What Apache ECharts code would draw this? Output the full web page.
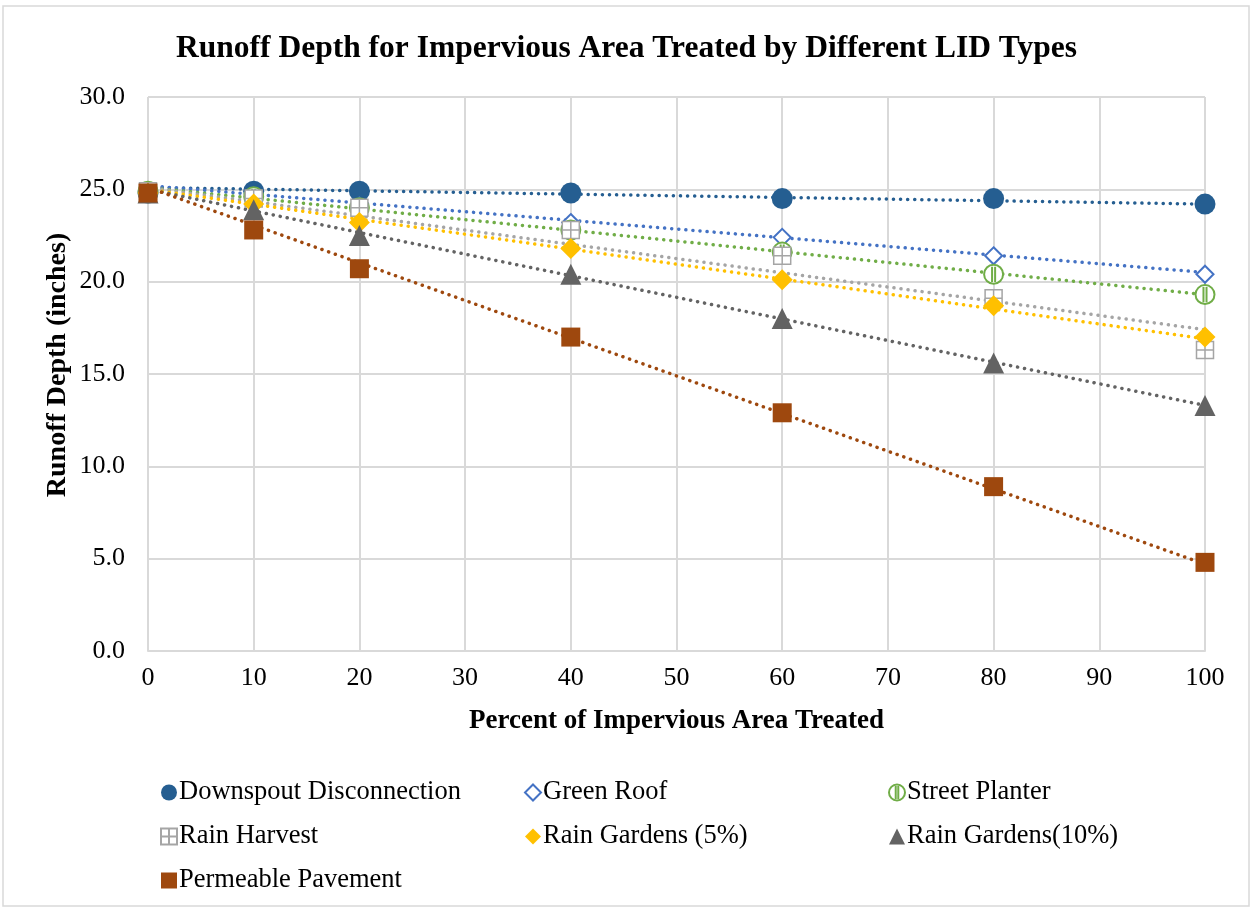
<!DOCTYPE html>
<html><head><meta charset="utf-8">
<script src="https://cdn.jsdelivr.net/npm/echarts@6/dist/echarts.min.js"></script>
<style>html,body{margin:0;padding:0;background:#fff}#c{width:1253px;height:909px}</style>
</head><body><div id="c"></div>
<script>
const xValues = [0, 10, 20, 40, 60, 80, 100];
const downspout = [24.8, 24.9, 24.9, 24.8, 24.5, 24.5, 24.2];
const greenRoof = [24.9, 24.6, 24.1, 23.2, 22.4, 21.4, 20.4];
const streetPlanter = [24.9, 24.6, 24.0, 22.8, 21.6, 20.4, 19.3];
const rainHarvest = [24.9, 24.5, 24.0, 22.8, 21.4, 19.1, 16.3];
const rainGardens5 = [24.8, 24.2, 23.2, 21.8, 20.1, 18.7, 17.0];
const rainGardens10 = [24.8, 23.9, 22.5, 20.4, 18.0, 15.6, 13.3];
const permeable = [24.8, 22.8, 20.7, 17.0, 12.9, 8.9, 4.8];
// trendline endpoints, at x = 0 and x = 100
const trendX = [0, 100];
const trendDownspout = [25.1, 24.2];
const trendGreenRoof = [25.2, 20.5];
const trendStreetPlanter = [25.1, 19.3];
const trendRainHarvest = [25.1, 17.4];
const trendRainGardens5 = [25.0, 16.9];
const trendRainGardens10 = [25.0, 13.3];
const trendPermeable = [25.1, 4.7];
const names = ['Downspout Disconnection','Green Roof','Street Planter','Rain Harvest','Rain Gardens (5%)','Rain Gardens(10%)','Permeable Pavement'];
const colors = ['#255E91','#4472C4','#70AD47','#A5A5A5','#FFC000','#636363','#9E480E'];

const pts = arr => xValues.map((x,i)=>[x,arr[i]]);
const tr = arr => trendX.map((x,i)=>[x,arr[i]]);
const font = '"Liberation Serif","Times New Roman",serif';

const harvestPath = 'path://M0,0 L10,0 L10,10 L0,10 Z M5,0 L5,10 M0,5 L10,5';
const planterPath = 'path://M5,0 A5,5 0 1,1 5,10 A5,5 0 1,1 5,0 Z M4.2,1 L4.2,9 M5.8,1 L5.8,9';
const markerDefs = [
  {data: downspout, symbol:'circle', size:21, style:{color:colors[0]}},
  {data: greenRoof, symbol:'diamond', size:17, style:{color:'#fff', borderColor:colors[1], borderWidth:2}},
  {data: streetPlanter, symbol:planterPath, size:19, style:{color:'#fff', borderColor:colors[2], borderWidth:2}},
  {data: rainHarvest, symbol:harvestPath, size:17, style:{color:'#fff', borderColor:colors[3], borderWidth:1.5}},
  {data: rainGardens5, symbol:'diamond', size:21, style:{color:colors[4]}},
  {data: rainGardens10, symbol:'triangle', size:21, style:{color:colors[5]}},
  {data: permeable, symbol:'rect', size:19, style:{color:colors[6]}}
];
const trends = [trendDownspout, trendGreenRoof, trendStreetPlanter, trendRainHarvest, trendRainGardens5, trendRainGardens10, trendPermeable];

const series = [];
trends.forEach((t,i)=>{
  series.push({type:'line', name:'trend'+i, data: tr(t), symbol:'none', silent:true, z:2,
    lineStyle:{color:colors[i], width:3.5, type:[0.1,7], cap:'round'}});
});
markerDefs.forEach((m,i)=>{
  series.push({type:'scatter', name:names[i], data: pts(m.data), symbol:m.symbol, symbolSize:m.size,
    itemStyle:Object.assign({opacity:1}, m.style), z:3+i});
});

const legendBase = {orient:'vertical', itemWidth:16, itemHeight:16, itemGap:17,
  textStyle:{fontFamily:font, fontSize:26.5, color:'#000', padding:[0,0,0,-3]}};
const chart = echarts.init(document.getElementById('c'));
chart.setOption({
  animation:false,
  backgroundColor:'#fff',
  title:{text:'Runoff Depth for Impervious Area Treated by Different LID Types', left:'center', top:28,
    textStyle:{fontFamily:font, fontSize:31.5, fontWeight:'bold', color:'#000'}},
  grid:{left:148, right:48, top:97, bottom:258},
  xAxis:{type:'value', min:0, max:100, interval:10,
    name:'Percent of Impervious Area Treated', nameLocation:'middle', nameGap:57,
    nameTextStyle:{fontFamily:font, fontSize:27, fontWeight:'bold', color:'#000'},
    axisLine:{show:true, lineStyle:{color:'#d9d9d9', width:2}}, axisTick:{show:false},
    axisLabel:{fontFamily:font, fontSize:26, color:'#000', margin:14},
    splitLine:{show:true, lineStyle:{color:'#d9d9d9', width:2}}},
  yAxis:{type:'value', min:0, max:30, interval:5,
    axisLine:{show:false}, axisTick:{show:false},
    axisLabel:{fontFamily:font, fontSize:26, color:'#000', margin:23, formatter:v=>v.toFixed(1)},
    splitLine:{show:true, lineStyle:{color:'#d9d9d9', width:2}}},
  legend:[
    Object.assign({}, legendBase, {left:155, top:774, data:[names[0], names[3], names[6]]}),
    Object.assign({}, legendBase, {left:519, top:774, data:[names[1], names[4]]}),
    Object.assign({}, legendBase, {left:883, top:774, data:[names[2], names[5]]})
  ],
  graphic:[
    {type:'rect', shape:{x:3, y:6, width:1246, height:900}, style:{fill:'none', stroke:'#d9d9d9', lineWidth:1.5}, silent:true},
    {type:'text', x:58, y:365, rotation:Math.PI/2, silent:true,
      style:{text:'Runoff Depth (inches)', fontFamily:font, fontSize:28, fontWeight:'bold', fill:'#000', align:'center', verticalAlign:'middle'}}
  ],
  series: series
});
</script></body></html>
